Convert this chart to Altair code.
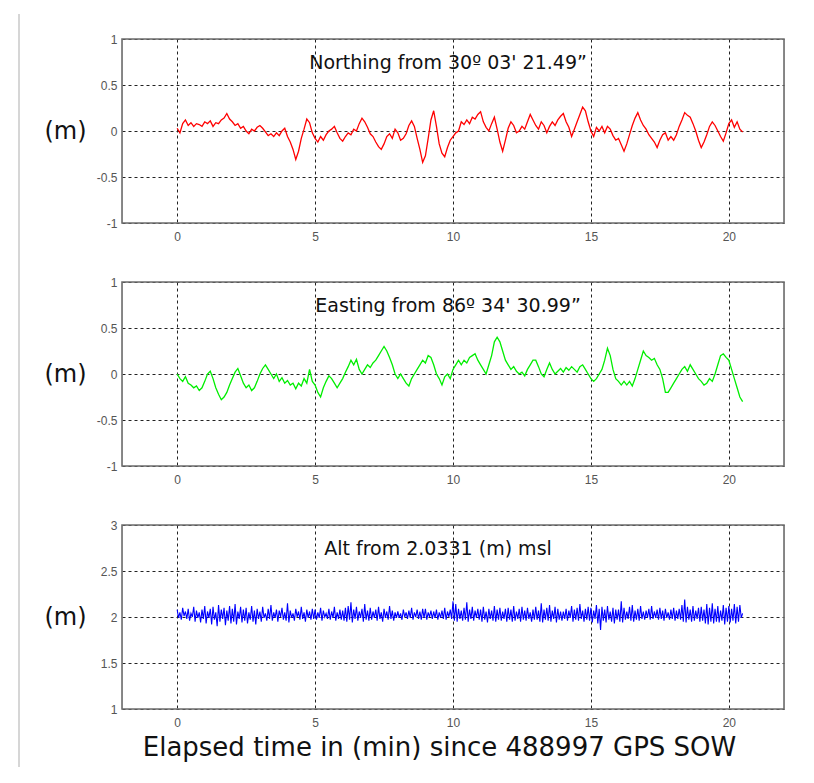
import altair as alt
import pandas as pd

# elapsed time (min), sampled every 0.1 min for northing/easting
time_min = [round(i * 0.1, 1) for i in range(206)]
# altitude is sampled every 0.05 min
time_alt = [round(i * 0.05, 2) for i in range(411)]

northing = [
    0.03, -0.02, 0.08, 0.12, 0.06, 0.09, 0.05, 0.08, 0.07, 0.05,
    0.10, 0.08, 0.11, 0.05, 0.09, 0.08, 0.12, 0.14, 0.19, 0.13,
    0.10, 0.06, 0.08, 0.03, 0.05, 0.00, -0.03, 0.02, 0.00, 0.04,
    0.06, 0.03, -0.01, -0.05, -0.03, -0.06, -0.02, -0.05, 0.00, 0.03,
    -0.06, -0.12, -0.20, -0.31, -0.22, -0.08, 0.02, 0.13, 0.09, -0.02,
    -0.08, -0.12, -0.06, -0.10, -0.04, 0.00, 0.02, 0.05, -0.02, -0.08,
    -0.11, -0.06, -0.02, -0.04, 0.02, 0.00, 0.08, 0.14, 0.10, 0.04,
    -0.03, -0.06, -0.12, -0.17, -0.20, -0.14, -0.06, -0.03, -0.08, 0.02,
    -0.02, -0.10, -0.08, -0.03, 0.06, 0.11, 0.05, -0.08, -0.20, -0.34,
    -0.27, -0.08, 0.12, 0.22, 0.05, -0.14, -0.24, -0.28, -0.18, -0.10,
    -0.06, -0.02, 0.00, 0.10, 0.07, 0.12, 0.08, 0.15, 0.13, 0.18,
    0.21, 0.10, 0.04, 0.00, 0.08, 0.15, 0.02, -0.12, -0.22, -0.10,
    0.03, 0.10, 0.06, -0.02, 0.00, 0.05, 0.02, 0.10, 0.18, 0.12,
    0.06, 0.02, 0.10, 0.06, -0.02, 0.05, 0.10, 0.06, 0.12, 0.16,
    0.19, 0.10, 0.04, -0.06, 0.02, 0.10, 0.18, 0.26, 0.22, 0.10,
    0.00, -0.06, 0.04, 0.00, 0.05, -0.02, 0.05, 0.02, -0.05, -0.10,
    -0.08, -0.15, -0.22, -0.14, -0.04, 0.06, 0.14, 0.20, 0.12, 0.06,
    0.02, -0.04, -0.08, -0.12, -0.18, -0.10, -0.04, -0.02, -0.10, -0.06,
    -0.10, -0.04, 0.05, 0.12, 0.20, 0.17, 0.15, 0.08, 0.00, -0.10,
    -0.18, -0.12, -0.04, 0.05, 0.10, 0.06, 0.00, -0.06, -0.11, -0.02,
    0.08, 0.12, 0.04, 0.10, 0.02, -0.01,
]

easting = [
    0.00, -0.05, -0.08, -0.03, -0.10, -0.12, -0.15, -0.13, -0.18, -0.15,
    -0.08, 0.00, 0.03, -0.05, -0.15, -0.22, -0.28, -0.25, -0.20, -0.12,
    -0.05, 0.02, 0.06, -0.02, -0.10, -0.15, -0.12, -0.18, -0.15, -0.08,
    0.00, 0.06, 0.10, 0.05, 0.00, -0.05, 0.00, -0.08, -0.04, -0.10,
    -0.07, -0.12, -0.10, -0.16, -0.10, -0.13, -0.05, -0.10, 0.05, -0.08,
    -0.12, -0.20, -0.25, -0.15, -0.08, -0.02, -0.05, -0.10, -0.15, -0.10,
    -0.05, 0.02, 0.08, 0.15, 0.10, 0.16, 0.05, 0.00, 0.05, 0.10,
    0.07, 0.12, 0.15, 0.20, 0.25, 0.30, 0.25, 0.18, 0.10, 0.00,
    -0.05, 0.00, -0.05, -0.10, -0.13, -0.05, 0.00, 0.05, 0.10, 0.15,
    0.12, 0.20, 0.18, 0.10, 0.00, -0.05, -0.12, -0.03, 0.00, -0.05,
    0.05, 0.10, 0.15, 0.10, 0.15, 0.12, 0.18, 0.20, 0.22, 0.15,
    0.10, 0.05, 0.00, 0.10, 0.20, 0.35, 0.40, 0.35, 0.25, 0.15,
    0.10, 0.05, 0.08, 0.03, 0.00, 0.02, -0.02, 0.05, 0.10, 0.15,
    0.15, 0.08, 0.00, -0.03, 0.05, 0.12, 0.05, 0.00, 0.03, 0.06,
    0.02, 0.07, 0.04, 0.08, 0.05, 0.02, 0.08, 0.10, 0.05, 0.00,
    -0.05, -0.08, -0.05, 0.00, 0.05, 0.15, 0.28, 0.20, 0.05, -0.05,
    -0.08, -0.12, -0.08, -0.12, -0.08, -0.13, -0.05, 0.05, 0.15, 0.25,
    0.20, 0.18, 0.15, 0.17, 0.10, 0.05, -0.05, -0.20, -0.20, -0.15,
    -0.10, -0.05, 0.00, 0.05, 0.08, 0.03, 0.10, 0.05, 0.00, -0.05,
    -0.08, -0.12, -0.10, -0.05, -0.08, 0.00, 0.10, 0.20, 0.22, 0.18,
    0.15, 0.05, -0.05, -0.15, -0.25, -0.30,
]

altitude = [
    2.08, 1.99, 2.05, 1.97, 2.10, 2.01, 2.06, 1.98, 2.09, 1.96, 2.04, 2.00, 2.11, 1.95, 2.07, 1.99, 2.05, 1.94, 2.08, 1.98,
    2.12, 1.93, 2.06, 1.99, 2.09, 1.92, 2.11, 1.97, 2.05, 1.90, 2.13, 1.95, 2.08, 1.98, 2.10, 1.91, 2.07, 1.96, 2.12, 1.93,
    2.09, 1.95, 2.14, 1.92, 2.06, 1.98, 2.11, 1.94, 2.08, 1.96, 2.10, 1.93, 2.05, 1.97, 2.12, 1.95, 2.07, 1.92, 2.09, 1.98,
    2.06, 1.95, 2.11, 1.99, 2.04, 1.96, 2.09, 1.98, 2.13, 1.96, 2.05, 1.99, 2.08, 1.95, 2.07, 2.00, 2.10, 1.97, 2.05, 1.96,
    2.15, 1.94, 2.07, 1.99, 2.04, 1.96, 2.09, 2.00, 2.06, 1.97, 2.11, 1.98, 2.05, 1.95, 2.08, 1.99, 2.06, 1.97, 2.09, 1.98,
    2.08, 1.97, 2.05, 1.99, 2.10, 1.96, 2.07, 2.00, 2.04, 1.98, 2.09, 1.97, 2.06, 1.99, 2.11, 1.96, 2.05, 1.98, 2.08, 1.97,
    2.07, 1.96, 2.10, 1.95, 2.12, 1.97, 2.16, 1.94, 2.08, 1.98, 2.11, 1.96, 2.06, 1.99, 2.09, 1.95, 2.14, 1.97, 2.07, 1.96,
    2.10, 1.97, 2.06, 1.99, 2.08, 1.96, 2.11, 1.98, 2.05, 1.95, 2.09, 1.99, 2.06, 1.97, 2.12, 1.98, 2.07, 1.96, 2.05, 1.99,
    2.06, 1.99, 2.04, 1.97, 2.08, 2.00, 2.05, 1.98, 2.07, 1.99, 2.10, 1.97, 2.05, 2.00, 2.08, 1.98, 2.06, 1.97, 2.09, 1.99,
    2.09, 1.97, 2.05, 2.00, 2.07, 1.98, 2.06, 1.99, 2.08, 1.97, 2.05, 1.99, 2.07, 1.98, 2.10, 1.97, 2.06, 2.00, 2.08, 1.98,
    2.17, 1.96, 2.14, 1.95, 2.09, 1.98, 2.07, 1.96, 2.10, 1.97, 2.16, 1.95, 2.08, 1.98, 2.11, 1.96, 2.07, 1.99, 2.09, 1.97,
    2.08, 1.95, 2.11, 1.97, 2.06, 1.94, 2.09, 1.98, 2.07, 1.96, 2.12, 1.95, 2.08, 1.97, 2.10, 1.96, 2.06, 1.98, 2.09, 1.95,
    2.10, 1.97, 2.08, 1.95, 2.12, 1.96, 2.06, 1.98, 2.09, 1.95, 2.11, 1.97, 2.07, 1.96, 2.10, 1.98, 2.05, 1.95, 2.08, 1.97,
    2.11, 1.97, 2.07, 1.95, 2.15, 1.94, 2.08, 1.97, 2.10, 1.96, 2.13, 1.95, 2.07, 1.98, 2.11, 1.94, 2.09, 1.97, 2.06, 1.96,
    2.06, 1.98, 2.09, 1.96, 2.07, 1.99, 2.12, 1.95, 2.08, 1.97, 2.10, 1.96, 2.14, 1.98, 2.07, 1.95, 2.09, 1.97, 2.11, 1.96,
    2.10, 1.94, 2.07, 1.98, 2.13, 1.93, 2.09, 1.86, 2.11, 1.96, 2.08, 1.94, 2.12, 1.97, 2.06, 1.95, 2.10, 1.93, 2.08, 1.97,
    2.08, 1.95, 2.17, 1.94, 2.10, 1.97, 2.06, 1.98, 2.11, 1.96, 2.13, 1.95, 2.07, 1.97, 2.09, 1.96, 2.12, 1.98, 2.06, 1.97,
    2.07, 1.99, 2.09, 1.97, 2.12, 1.98, 2.06, 1.99, 2.08, 1.97, 2.10, 1.98, 2.07, 1.96, 2.09, 1.99, 2.05, 1.97, 2.08, 1.98,
    2.10, 1.96, 2.07, 1.98, 2.09, 1.97, 2.13, 1.95, 2.19, 1.94, 2.11, 1.97, 2.08, 1.95, 2.12, 1.96, 2.07, 1.98, 2.10, 1.95,
    2.11, 1.96, 2.08, 1.93, 2.14, 1.92, 2.10, 1.95, 2.15, 1.93, 2.09, 1.95, 2.12, 1.94, 2.07, 1.96, 2.13, 1.92, 2.10, 1.95,
    2.12, 1.94, 2.09, 1.96, 2.14, 1.93, 2.11, 1.95, 2.13, 1.99, 2.04,
]

x_ticks = [0, 5, 10, 15, 20]
ticks_pm1 = [-1, -0.5, 0, 0.5, 1]
ticks_alt = [1, 1.5, 2, 2.5, 3]

titles = [
    "Northing from 30\u00ba 03' 21.49\u201d",
    "Easting from 86\u00ba 34' 30.99\u201d",
    "Alt from 2.0331 (m) msl",
]
x_title = "Elapsed time in (min) since 488997 GPS SOW"

SMALL = "Liberation Sans"
BIG = "DejaVu Sans"
W, H = 662, 184
FRAME = "#6e6e6e"


def panel(times, values, color, width, ydom, yticks, title, title_x, xtitle=None, rule=False):
    df = pd.DataFrame({"t": times, "v": values})
    xaxis = alt.Axis(
        values=x_ticks, grid=True, gridColor="#222", gridDash=[3, 3], gridWidth=1,
        ticks=False, domain=False, labelFont=SMALL, labelFontSize=12,
        labelColor="#555", labelPadding=8,
        title=xtitle, titleFont=BIG, titleFontSize=26, titleFontWeight="normal",
        titleColor="#111", titlePadding=6, titleX=W / 2 - 14,
    )
    yaxis = alt.Axis(
        values=yticks, grid=True, gridColor="#222", gridDash=[3, 3], gridWidth=1,
        ticks=False, domain=False, labelFont=SMALL, labelFontSize=12,
        labelColor="#555", labelPadding=5, format="~g",
        labelExpr="replace(datum.label, '\u2212', '-')",
        title="(m)", titleAngle=0, titleAlign="center", titleBaseline="middle",
        titleX=-57, titleY=H / 2, titleFont=BIG, titleFontSize=24,
        titleFontWeight="normal", titleColor="#111",
    )
    line = alt.Chart(df).mark_line(color=color, strokeWidth=width).encode(
        x=alt.X("t:Q", scale=alt.Scale(domain=[-2, 22], nice=False), axis=xaxis),
        y=alt.Y("v:Q", scale=alt.Scale(domain=ydom, nice=False, zero=False), axis=yaxis),
    )
    txt = alt.Chart(pd.DataFrame({"s": [title]})).mark_text(
        font=BIG, fontSize=19, color="#111"
    ).encode(text="s:N", x=alt.value(title_x), y=alt.value(24))
    frame = alt.Chart(pd.DataFrame({"a": [0]})).mark_rect(
        filled=False, stroke=FRAME, strokeWidth=1.6
    ).encode(x=alt.value(0), x2=alt.value(W), y=alt.value(0), y2=alt.value(H))
    layers = [line, txt, frame]
    if rule:
        layers.append(
            alt.Chart(pd.DataFrame({"a": [0]})).mark_rule(color="#d6d6d6", strokeWidth=2).encode(
                x=alt.value(-103), y=alt.value(-25), y2=alt.value(728)
            )
        )
    return alt.layer(*layers).properties(width=W, height=H)


p1 = panel(time_min, northing, "#ff0000", 1.3, [-1, 1], ticks_pm1, titles[0], 326, rule=True)
p2 = panel(time_min, easting, "#00ee00", 1.3, [-1, 1], ticks_pm1, titles[1], 326)
p3 = panel(time_alt, altitude, "#0000ff", 1.1, [1, 3], ticks_alt, titles[2], 316, xtitle=x_title)

chart = alt.vconcat(p1, p2, p3, spacing=59, bounds="flush").properties(
    padding={"left": 9, "top": 4, "right": 5, "bottom": 0}
).configure_view(stroke=None).configure(background="white")

chart.save("out.html", embed_options={"renderer": "svg", "actions": False})
